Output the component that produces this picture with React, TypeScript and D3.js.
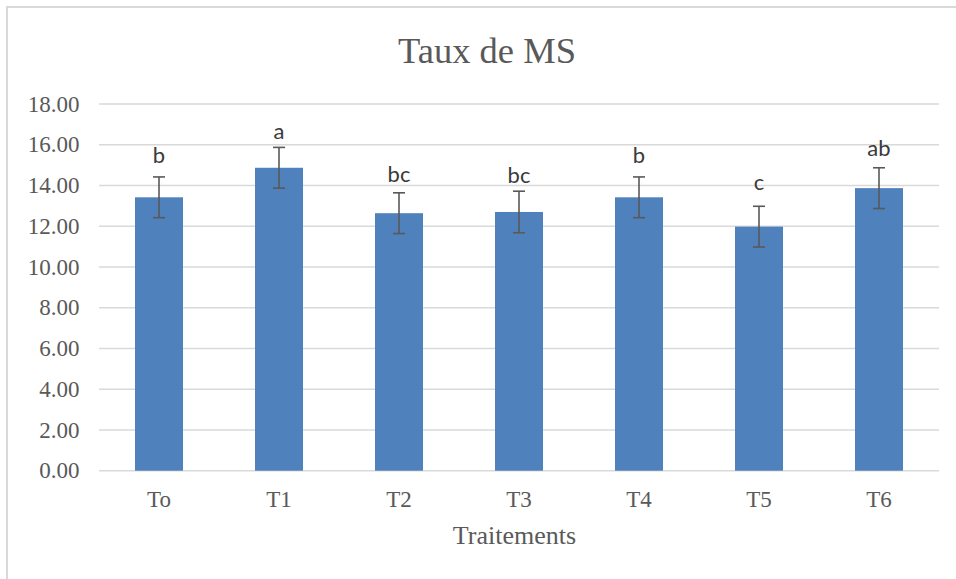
import React from "react";
import * as d3 from "d3";

const categories = ["To", "T1", "T2", "T3", "T4", "T5", "T6"];
const means = [13.42, 14.87, 12.64, 12.7, 13.42, 11.98, 13.87];
const errors = [1.0, 1.0, 1.0, 1.02, 1.0, 1.0, 1.0];
const letters = ["b", "a", "bc", "bc", "b", "c", "ab"];
const letterLevels = [15.12, 16.28, 14.17, 14.11, 15.12, 13.78, 15.46];
const yTicks = [0, 2, 4, 6, 8, 10, 12, 14, 16, 18];
const title = "Taux de MS";
const xTitle = "Traitements";

const W = 956;
const H = 579;
const plot = { left: 99, right: 939, top: 104, bottom: 470.7 };

const serif = { fontFamily: "Liberation Serif, Times New Roman, serif" };
const sans = { fontFamily: "Lato, Open Sans, sans-serif" };

export default function App() {
  const x = d3
    .scaleBand<string>()
    .domain(categories)
    .range([plot.left, plot.right])
    .paddingInner(0.6)
    .paddingOuter(0.3);
  const y = d3.scaleLinear().domain([0, 18]).range([plot.bottom, plot.top]);
  const cap = 6;

  return (
    <svg
      width={W}
      height={H}
      style={{ position: "absolute", left: 0, top: 0, background: "#fff" }}
    >
      <rect x={0} y={0} width={W} height={H} fill="#fff" />
      <rect
        x={7}
        y={7}
        width={W + 20}
        height={H + 20}
        fill="none"
        stroke="#d9d9d9"
        strokeWidth={2}
      />
      <text x={487} y={63} textAnchor="middle" fontSize={36.5} fill="#595959" style={serif}>
        {title}
      </text>
      {yTicks.map((t) => (
        <g key={t}>
          <line
            x1={plot.left}
            x2={plot.right}
            y1={y(t)}
            y2={y(t)}
            stroke="#d9d9d9"
            strokeWidth={1.5}
          />
          <text
            x={79.5}
            y={y(t) + 7.7}
            textAnchor="end"
            fontSize={23}
            fill="#595959"
            style={serif}
          >
            {t.toFixed(2)}
          </text>
        </g>
      ))}
      {categories.map((c, i) => {
        const bx = x(c)!;
        const cx = bx + x.bandwidth() / 2;
        const top = y(means[i] + errors[i]);
        const bot = y(means[i] - errors[i]);
        return (
          <g key={c}>
            <rect
              x={bx}
              y={y(means[i])}
              width={x.bandwidth()}
              height={y(0) - y(means[i])}
              fill="#4f81bd"
            />
            <line x1={cx} x2={cx} y1={top} y2={bot} stroke="#595959" strokeWidth={1.6} />
            <line x1={cx - cap} x2={cx + cap} y1={top} y2={top} stroke="#595959" strokeWidth={1.6} />
            <line x1={cx - cap} x2={cx + cap} y1={bot} y2={bot} stroke="#595959" strokeWidth={1.6} />
            <text
              x={cx}
              y={y(letterLevels[i])}
              textAnchor="middle"
              fontSize={22}
              fill="#3a3a3a"
              style={sans}
            >
              {letters[i]}
            </text>
            <text x={cx} y={507.3} textAnchor="middle" fontSize={23} fill="#595959" style={serif}>
              {c}
            </text>
          </g>
        );
      })}
      <text x={514.5} y={544.3} textAnchor="middle" fontSize={26} fill="#595959" style={serif}>
        {xTitle}
      </text>
    </svg>
  );
}
